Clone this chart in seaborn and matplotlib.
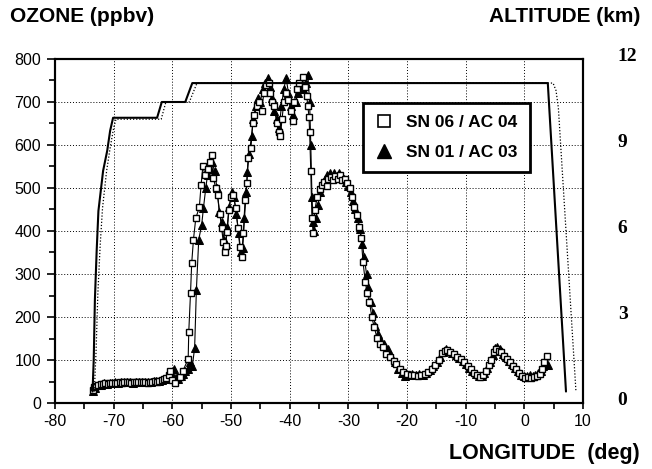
import numpy as np
import pandas as pd
import seaborn as sns
import matplotlib
matplotlib.use("Agg")
import matplotlib.pyplot as plt
from matplotlib.lines import Line2D
from matplotlib.ticker import MultipleLocator
from matplotlib.transforms import ScaledTranslation

# ---------------- data ----------------
sq_lon = [-73.6, -73.3, -73.0, -72.6, -72.2, -71.8, -71.4, -71.0, -70.6, -70.2, -69.8, -69.4, -69.0,
          -68.6, -68.2, -67.8, -67.4, -67.0, -66.6, -66.2, -65.8, -65.4, -65.0, -64.6, -64.2, -63.8,
          -63.4, -63.0, -62.6, -62.2, -61.8, -61.4, -61.0, -60.6, -60.4, -60.0, -59.5, -58.7, -58.2,
          -57.3, -57.2, -56.9, -56.7, -56.4, -56.0, -55.4, -55.1, -54.8, -54.4, -54.0, -53.6, -53.2,
          -53.0, -52.6, -52.3, -51.9, -51.6, -51.3, -51.1, -50.9, -50.7, -50.4, -50.0, -49.6, -49.2,
          -48.8, -48.5, -48.2, -47.9, -47.6, -47.3, -47.1, -46.6, -46.3, -46.0, -45.6, -45.2, -44.8,
          -44.4, -44.0, -43.6, -43.3, -43.0, -42.6, -42.2, -41.9, -41.6, -41.3, -41.0, -40.6, -40.2,
          -39.8, -39.5, -39.2, -38.8, -38.4, -37.7, -37.4, -37.1, -36.9, -36.7, -36.6, -36.4, -36.2,
          -36.0, -35.7, -35.3, -34.9, -34.5, -34.1, -33.7, -33.4, -33.0, -32.6, -32.2, -31.8, -31.4,
          -31.0, -30.6, -30.2, -29.8, -29.4, -29.0, -28.6, -28.2, -27.8, -27.5, -27.1, -26.8, -26.4,
          -26.0, -25.6, -25.1, -24.6, -24.1, -23.5, -22.9, -22.3, -21.8, -21.2, -20.6, -20.0, -19.4,
          -18.8, -18.2, -17.6, -17.0, -16.4, -15.8, -15.2, -14.6, -14.0, -13.5, -13.1, -12.6, -12.0,
          -11.4, -10.8, -10.2, -9.6, -9.1, -8.6, -8.1, -7.6, -7.0, -6.5, -6.0, -5.6, -5.2, -4.8, -4.4,
          -3.9, -3.4, -2.9, -2.4, -1.9, -1.4, -0.9, -0.4, 0.1, 0.6, 1.1, 1.6, 2.1, 2.6, 3.0, 3.4, 3.8]
sq_o3 = [30, 38, 40, 42, 44, 45, 46, 45, 46, 47, 46, 47, 48,
         47, 48, 49, 48, 47, 48, 49, 48, 50, 49, 48, 47, 49,
         50, 51, 50, 52, 54, 55, 58, 65, 75, 53, 47, 60, 75,
         102, 165, 256, 325, 380, 430, 455, 507, 550, 530, 545, 560, 577,
         523, 500, 484, 440, 407, 375, 351, 365, 398, 449, 480, 484, 453,
         407, 363, 340, 395, 472, 512, 570, 593, 651, 670, 690, 700, 680,
         720, 740, 745, 720, 700, 690, 650, 630, 620, 660, 700, 720, 705,
         680, 655, 700, 730, 745, 758, 735, 715, 690, 665, 630, 540, 430,
         395, 449, 480, 497, 507, 515, 505, 520, 525, 518, 528, 522, 530,
         518, 522, 512, 500, 480, 455, 437, 410, 384, 328, 281, 256, 235,
         200, 177, 151, 138, 130, 115, 107, 97, 90, 80, 72, 68, 65,
         66, 63, 66, 67, 72, 80, 88, 100, 116, 120, 123, 118, 114,
         108, 102, 95, 85, 78, 70, 64, 60, 66, 75, 88, 100, 118, 125, 122,
         118, 110, 102, 95, 85, 78, 70, 63, 58, 60, 58, 60, 62, 68, 80, 95, 110]

tr_lon = [-73.5, -73.1, -72.7, -72.2, -71.7, -71.2, -70.7, -70.2, -69.7, -69.2, -68.7, -68.2, -67.7,
          -67.2, -66.7, -66.2, -65.7, -65.2, -64.7, -64.2, -63.7, -63.2, -62.7, -62.2, -61.7, -61.2,
          -60.7, -60.2, -59.8, -59.4, -59.0, -58.6, -58.2, -57.8, -57.4, -57.0, -56.6, -56.2, -55.9,
          -55.5, -55.0, -54.7, -54.3, -54.0, -53.6, -53.2, -52.8, -52.4, -52.0, -51.6, -51.2, -50.9,
          -50.6, -50.3, -49.9, -49.5, -49.1, -48.7, -48.3, -48.0, -47.7, -47.4, -47.2, -46.9, -46.5,
          -46.2, -45.8, -45.4, -45.0, -44.6, -44.2, -43.7, -43.4, -43.0, -42.6, -42.2, -41.8, -41.4,
          -41.0, -40.6, -40.2, -39.8, -39.4, -39.0, -38.6, -38.2, -37.8, -37.3, -36.9, -36.6, -36.4,
          -36.2, -36.0, -35.8, -35.5, -35.2, -34.8, -34.4, -34.0, -33.6, -33.2, -32.8, -32.4, -32.0,
          -31.6, -31.2, -30.8, -30.4, -30.0, -29.6, -29.2, -28.8, -28.4, -28.0, -27.6, -27.3, -26.9,
          -26.6, -26.2, -25.8, -25.4, -24.9, -24.4, -23.9, -23.3, -22.7, -22.1, -21.5, -20.9, -20.3,
          -19.7, -19.1, -18.5, -17.9, -17.3, -16.7, -16.1, -15.5, -14.9, -14.3, -13.8, -13.3, -12.8,
          -12.3, -11.7, -11.1, -10.5, -9.9, -9.4, -8.9, -8.3, -7.8, -7.3, -6.8, -6.3, -5.8, -5.4, -5.0,
          -4.6, -4.1, -3.6, -3.1, -2.6, -2.1, -1.6, -1.1, -0.6, -0.1, 0.4, 0.9, 1.4, 1.9, 2.4, 2.8,
          3.2, 3.6, 4.0]
tr_o3 = [28, 36, 41, 43, 46, 45, 47, 46, 48, 47, 49, 48, 48,
         49, 47, 48, 50, 49, 50, 48, 49, 51, 52, 51, 53, 56,
         62, 70, 80, 58, 55, 62, 68, 74, 80, 95, 85, 128, 263,
         380, 414, 453, 500, 530, 545, 560, 540, 500, 444, 421, 380, 370,
         410, 455, 490, 480, 440, 395, 350, 360, 430, 490, 537, 580, 620,
         660, 690, 710, 700, 730, 745, 756, 735, 710, 680, 660, 640, 690,
         730, 756, 720, 690, 670, 700, 720, 740, 730, 745, 763, 700, 600,
         480, 420, 400, 430, 460, 490, 510, 520, 530, 535, 525, 535, 528,
         535, 525, 520, 515, 505, 490, 470, 450, 430, 405, 370, 340, 300,
         270, 235, 210, 180, 160, 145, 138, 125, 110, 95, 80, 70, 62,
         66, 68, 65, 68, 66, 70, 76, 85, 95, 108, 118, 125, 122,
         116, 112, 105, 98, 90, 82, 75, 68, 63, 62, 70, 82, 95, 112, 128,
         130, 125, 115, 106, 98, 90, 82, 74, 66, 62, 62, 64, 62, 65, 70, 75,
         85, 95, 88]

# altitude profiles (km)
alt1_lon = [-73.6, -73.4, -73.2, -72.9, -72.6, -71.8, -71.1, -70.6, -70.1, -62.6, -61.8, -57.8, -56.6, 4.0, 7.1]
alt1_km = [0.4, 1.5, 3.6, 5.3, 6.7, 8.1, 8.8, 9.5, 9.95, 9.95, 10.5, 10.5, 11.16, 11.16, 0.4]
alt2_lon = [-73.3, -73.0, -72.7, -72.3, -71.9, -71.2, -70.6, -70.0, -69.6, -61.9, -61.1, -57.1, -55.8, 4.9, 5.4, 5.8, 8.8]
alt2_km = [0.4, 1.8, 3.8, 5.5, 6.8, 8.1, 8.9, 9.6, 9.9, 9.9, 10.5, 10.5, 11.16, 11.16, 10.9, 10.3, 0.4]

x_ticks = [-80, -70, -60, -50, -40, -30, -20, -10, 0, 10]
y_ticks = [0, 100, 200, 300, 400, 500, 600, 700, 800]
alt_ticks = [0, 3, 6, 9, 12]
labels = ["SN 06 / AC 04", "SN 01 / AC 03"]

# ---------------- plot ----------------
sns.set_theme(style="white")
plt.rcParams['font.family'] = ['Liberation Sans', 'DejaVu Sans']
plt.rcParams.update({"text.color": "black", "axes.labelcolor": "black",
                     "xtick.color": "black", "ytick.color": "black"})

fig = plt.figure(figsize=(6.52, 4.69), dpi=100)
ax = fig.add_axes([55/652, 1-403/469, 528/652, 344/469])
ax2 = ax.twinx()

df_sq = pd.DataFrame({"lon": sq_lon, "o3": sq_o3})
df_tr = pd.DataFrame({"lon": tr_lon, "o3": tr_o3})

sns.lineplot(data=df_tr, x="lon", y="o3", ax=ax, sort=False, estimator=None,
             color="black", lw=0.8, marker="^", markersize=5.5,
             markerfacecolor="black", markeredgecolor="black", zorder=3)
sns.lineplot(data=df_sq, x="lon", y="o3", ax=ax, sort=False, estimator=None,
             color="black", lw=0.8, marker="s", markersize=5,
             markerfacecolor="white", markeredgecolor="black", markeredgewidth=1.0, zorder=4)

sns.lineplot(x=alt1_lon, y=alt1_km, ax=ax2, sort=False, estimator=None,
             color="black", lw=1.5, zorder=2)
sns.lineplot(x=alt2_lon, y=alt2_km, ax=ax2, sort=False, estimator=None,
             color="black", lw=0.9, linestyle=(0, (1, 1.5)), zorder=2)

ax.set_xlim(-80, 10)
ax.set_ylim(0, 800)
ax2.set_ylim(0, 12)
ax.set_xticks(x_ticks)
ax.set_yticks(y_ticks)
ax.xaxis.set_minor_locator(MultipleLocator(5))
ax.yaxis.set_minor_locator(MultipleLocator(50))
ax.set_xticklabels([str(v) for v in x_ticks])
ax.set_yticklabels([str(v) for v in y_ticks])
ax.set_xlabel("")
ax.set_ylabel("")
ax2.set_ylabel("")

ax.grid(True, which="major", color="black", linestyle=(0, (1, 2)), linewidth=0.7)
ax.tick_params(axis="both", which="both", direction="out", color="black", labelsize=11.5,
               labelcolor="black")
ax.tick_params(axis="x", which="major", length=4, width=1.2, pad=4)
ax.tick_params(axis="x", which="minor", length=4, width=1.2)
ax.tick_params(axis="y", which="major", length=6, width=1.2, pad=4)
ax.tick_params(axis="y", which="minor", length=4, width=1.2)
ax.tick_params(bottom=True, left=True, top=False, right=False)
ax.tick_params(axis="both", which="minor", bottom=True, left=True)

ax2.set_yticks(alt_ticks)
ax2.set_yticklabels([str(v) for v in alt_ticks], family=['Liberation Serif'],
                    fontweight='bold', fontsize=14, color="black")
ax2.tick_params(axis="y", length=0, pad=25)
ax2.grid(False)
offset = ScaledTranslation(0, 5/100, fig.dpi_scale_trans)
for lab in ax2.get_yticklabels():
    lab.set_transform(lab.get_transform() + offset)

for a in (ax, ax2):
    for s in a.spines.values():
        s.set_color("black")
        s.set_linewidth(1.5)

handles = [Line2D([], [], linestyle="none", marker="s", markersize=8, markerfacecolor="white",
                  markeredgecolor="black", markeredgewidth=1.2),
           Line2D([], [], linestyle="none", marker="^", markersize=10, markerfacecolor="black",
                  markeredgecolor="black")]
leg = ax.legend(handles, labels, loc="upper left", bbox_to_anchor=(0.583, 0.872),
                borderaxespad=0, frameon=True, fancybox=False, framealpha=1, edgecolor="black",
                prop={"weight": "bold", "size": 12.5}, handlelength=1.0, handletextpad=0.8,
                labelspacing=0.85, borderpad=0.7)
leg.get_frame().set_linewidth(2)
leg.set_zorder(10)

fig.text(10/652, 1-17/469, "OZONE (ppbv)", fontsize=15, fontweight="bold", ha="left", va="center")
fig.text(640/652, 1-17/469, "ALTITUDE (km)", fontsize=15, fontweight="bold", ha="right", va="center")
fig.text(640/652, 1-453/469, "LONGITUDE  (deg)", fontsize=15.5, fontweight="bold", ha="right", va="center")

fig.savefig("out.png", dpi=100)
